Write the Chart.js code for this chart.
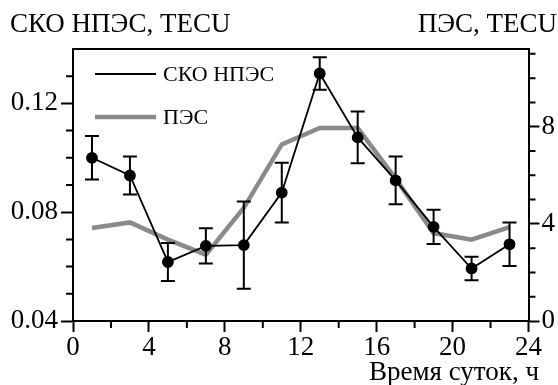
<!DOCTYPE html>
<html>
<head>
<meta charset="utf-8">
<script src="https://cdn.jsdelivr.net/npm/chart.js@4.4.0/dist/chart.umd.min.js"></script>
<style>
    html, body { margin: 0; padding: 0; background: #fff; }
</style>
</head>
<body>
<canvas id="tecGraf" width="558" height="385"></canvas>
<script>
// Data lest av figuren
const timer = [1, 3, 5, 7, 9, 11, 13, 15, 17, 19, 21, 23];
const skoVerdier = [0.100, 0.0935, 0.0617, 0.0676, 0.0679, 0.0872, 0.131, 0.1075, 0.0917, 0.0746, 0.0593, 0.0682];
const skoFeil = [0.008, 0.007, 0.007, 0.0065, 0.016, 0.011, 0.006, 0.0095, 0.0088, 0.0063, 0.0043, 0.008];
const pesVerdier = [3.83, 4.06, 3.35, 2.73, 4.66, 7.27, 7.95, 7.95, 5.86, 3.62, 3.35, 3.87];

const xTicks = [0, 4, 8, 12, 16, 20, 24];
const xSmaTicks = [2, 6, 10, 14, 18, 22];
const venstreTicks = [0.04, 0.08, 0.12];
const venstreSmaTicks = [0.05, 0.06, 0.07, 0.09, 0.10, 0.11, 0.13];
const hoyreTicks = [0, 4, 8];
const hoyreSmaTicks = [1, 2, 3, 5, 6, 7, 9, 10, 11];

const venstreTittel = 'СКО НПЭС, TECU';
const hoyreTittel = 'ПЭС, TECU';
const xTittel = 'Время суток, ч';

const serif = '"Liberation Serif", "Times New Roman", serif';

function settTicks(liste) {
    return function (skala) {
        skala.ticks = liste.map(v => ({ value: v }));
    };
}

// Egen plugin for feilstolper, små streker, titler og forklaring
const tegnPlugin = {
    id: 'tegnPlugin',
    afterDatasetsDraw(chart) {
        const ctx = chart.ctx;
        const x = chart.scales.x;
        const y = chart.scales.y;
        ctx.save();
        ctx.strokeStyle = '#000';
        ctx.lineWidth = 2;
        for (let i = 0; i < timer.length; i++) {
            const px = x.getPixelForValue(timer[i]);
            const topp = y.getPixelForValue(skoVerdier[i] + skoFeil[i]);
            const bunn = y.getPixelForValue(skoVerdier[i] - skoFeil[i]);
            ctx.beginPath();
            ctx.moveTo(px, topp);
            ctx.lineTo(px, bunn);
            ctx.moveTo(px - 7, topp);
            ctx.lineTo(px + 7, topp);
            ctx.moveTo(px - 7, bunn);
            ctx.lineTo(px + 7, bunn);
            ctx.stroke();
        }
        ctx.restore();
    },
    afterDraw(chart) {
        const ctx = chart.ctx;
        const area = chart.chartArea;
        const x = chart.scales.x;
        const y = chart.scales.y;
        const y2 = chart.scales.y2;
        ctx.save();
        ctx.strokeStyle = '#000';
        ctx.lineWidth = 2;

        // Toppkant
        ctx.beginPath();
        ctx.moveTo(area.left, area.top);
        ctx.lineTo(area.right, area.top);
        ctx.stroke();

        // Små streker
        ctx.beginPath();
        xSmaTicks.forEach(v => {
            const px = x.getPixelForValue(v);
            ctx.moveTo(px, area.bottom);
            ctx.lineTo(px, area.bottom + 7);
        });
        venstreSmaTicks.forEach(v => {
            const py = y.getPixelForValue(v);
            ctx.moveTo(area.left, py);
            ctx.lineTo(area.left - 7, py);
        });
        hoyreSmaTicks.forEach(v => {
            const py = y2.getPixelForValue(v);
            ctx.moveTo(area.right, py);
            ctx.lineTo(area.right + 7, py);
        });
        ctx.stroke();

        // Titler
        ctx.fillStyle = '#000';
        ctx.font = '27px ' + serif;
        ctx.textBaseline = 'alphabetic';
        ctx.textAlign = 'left';
        ctx.fillText(venstreTittel, 10, 32);
        ctx.textAlign = 'right';
        ctx.fillText(hoyreTittel, 557, 32);
        ctx.fillText(xTittel, 539, 380);

        // Forklaring
        ctx.textAlign = 'left';
        ctx.textBaseline = 'middle';
        ctx.font = '22px ' + serif;
        const rader = [74, 117];
        chart.data.datasets.forEach(ds => {
            const ry = rader[ds.legendRad];
            ctx.strokeStyle = ds.borderColor;
            ctx.lineWidth = ds.borderWidth;
            ctx.beginPath();
            ctx.moveTo(95, ry);
            ctx.lineTo(156, ry);
            ctx.stroke();
            ctx.fillText(ds.label, 163, ry + 1);
        });
        ctx.restore();
    }
};

const tickFont = { family: serif, size: 27 };

function lagGraf() {
    new Chart(document.getElementById('tecGraf'), {
        type: 'line',
        data: {
            datasets: [{
                label: 'СКО НПЭС',
                data: timer.map((t, i) => ({ x: t, y: skoVerdier[i] })),
                borderColor: '#000',
                borderWidth: 1.8,
                pointRadius: 5,
                pointBackgroundColor: '#000',
                pointBorderColor: '#000',
                yAxisID: 'y',
                order: 0,
                legendRad: 0
            }, {
                label: 'ПЭС',
                data: timer.map((t, i) => ({ x: t, y: pesVerdier[i] })),
                borderColor: '#8a8a8a',
                borderWidth: 4.5,
                pointRadius: 0,
                yAxisID: 'y2',
                order: 1,
                legendRad: 1
            }]
        },
        options: {
            responsive: false,
            animation: false,
            layout: { padding: { top: 49, left: 0, right: 0, bottom: 0 } },
            plugins: {
                legend: { display: false },
                tooltip: { enabled: false }
            },
            scales: {
                x: {
                    type: 'linear',
                    position: 'bottom',
                    min: 0,
                    max: 24,
                    afterBuildTicks: settTicks(xTicks),
                    afterFit: s => { s.height = 64; },
                    ticks: { font: tickFont, color: '#000', padding: 0, maxRotation: 0, autoSkip: false },
                    grid: { drawOnChartArea: false, tickLength: 11, color: '#000', tickWidth: 2 },
                    border: { color: '#000', width: 2 }
                },
                y: {
                    position: 'left',
                    min: 0.04,
                    max: 0.14,
                    afterBuildTicks: settTicks(venstreTicks),
                    afterFit: s => { s.width = 73; },
                    ticks: { font: tickFont, color: '#000', padding: 3, callback: v => Number(v).toFixed(2) },
                    grid: { drawOnChartArea: false, tickLength: 12, color: '#000', tickWidth: 2 },
                    border: { color: '#000', width: 2 }
                },
                y2: {
                    position: 'right',
                    min: 0,
                    max: 11.2,
                    afterBuildTicks: settTicks(hoyreTicks),
                    afterFit: s => { s.width = 29.5; },
                    ticks: { font: tickFont, color: '#000', padding: 2 },
                    grid: { drawOnChartArea: false, tickLength: 11, color: '#000', tickWidth: 2 },
                    border: { color: '#000', width: 2 }
                }
            }
        },
        plugins: [tegnPlugin]
    });
}

document.fonts.load('27px "Liberation Serif"').then(lagGraf, lagGraf);
</script>
</body>
</html>
